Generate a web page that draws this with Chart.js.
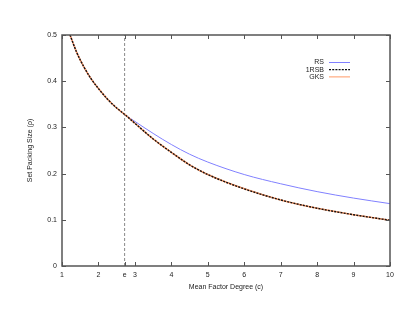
<!DOCTYPE html>
<html>
<head>
<meta charset="utf-8">
<script src="https://cdn.jsdelivr.net/npm/chart.js@4/dist/chart.umd.min.js"></script>
<style>
  html, body { margin: 0; padding: 0; background: #fff; }
  canvas { display: block; }
</style>
</head>
<body>
<canvas id="packingCanvas" width="415" height="321"></canvas>
<script>
// mean factor degree c
const degrees = [1.22, 1.4, 1.6, 1.8, 2, 2.25, 2.5, 2.72, 3, 3.5, 4, 4.5, 5, 6, 7, 8, 9, 10];
// set packing size rho
const rsValues   = [0.5, 0.463, 0.431, 0.405, 0.384, 0.361, 0.342, 0.328, 0.313, 0.287, 0.263, 0.242, 0.225, 0.198, 0.178, 0.161, 0.147, 0.135];
const rsbValues  = [0.5, 0.463, 0.431, 0.405, 0.384, 0.361, 0.342, 0.328, 0.309, 0.275, 0.246, 0.219, 0.198, 0.167, 0.143, 0.125, 0.111, 0.099];
const gksValues  = [0.5, 0.463, 0.431, 0.405, 0.384, 0.361, 0.342, 0.328, 0.309, 0.275, 0.246, 0.219, 0.198, 0.167, 0.143, 0.125, 0.111, 0.099];

const xTicks = [1, 2, Math.E, 3, 4, 5, 6, 7, 8, 9, 10];
const xTickLabels = ['1', '2', 'e', '3', '4', '5', '6', '7', '8', '9', '10'];
const yTicks = [0, 0.1, 0.2, 0.3, 0.4, 0.5];
const yTickLabels = ['0', '0.1', '0.2', '0.3', '0.4', '0.5'];
const eLine = [Math.E, Math.E];
const eLineY = [0, 0.5];

const FONT = { family: '"Liberation Sans", Arial, sans-serif', size: 7 };
const FRAME = '#555';

const toPoints = (xs, ys) => xs.map((x, i) => ({ x: x, y: ys[i] }));

// gnuplot-like frame with inward ticks on all four sides + legend
const framePlugin = {
    id: 'frame',
    afterDraw(chart) {
        const ctx = chart.ctx;
        const a = chart.chartArea;
        const xs = chart.scales.x, ys = chart.scales.y;
        ctx.save();
        ctx.strokeStyle = FRAME;
        ctx.lineWidth = 1.5;
        ctx.strokeRect(a.left, a.top, a.right - a.left, a.bottom - a.top);
        ctx.lineWidth = 1;
        ctx.beginPath();
        xTicks.forEach(v => {
            const px = Math.round(xs.getPixelForValue(v)) + 0.5;
            ctx.moveTo(px, a.bottom); ctx.lineTo(px, a.bottom - 4);
            ctx.moveTo(px, a.top); ctx.lineTo(px, a.top + 4);
        });
        yTicks.forEach(v => {
            const py = Math.round(ys.getPixelForValue(v)) + 0.5;
            ctx.moveTo(a.left, py); ctx.lineTo(a.left + 4, py);
            ctx.moveTo(a.right, py); ctx.lineTo(a.right - 4, py);
        });
        ctx.stroke();

        // legend: text right aligned, sample line to the right
        ctx.font = FONT.size + 'px ' + FONT.family;
        ctx.textAlign = 'right';
        ctx.textBaseline = 'middle';
        ctx.fillStyle = '#222';
        let y = 62.5;
        chart.data.datasets.filter(d => d.inLegend).forEach(d => {
            ctx.fillText(d.label, 324, y);
            ctx.strokeStyle = d.borderColor;
            ctx.lineWidth = d.legendWidth || d.borderWidth;
            ctx.setLineDash(d.borderDash || []);
            ctx.beginPath();
            ctx.moveTo(329, y); ctx.lineTo(350, y);
            ctx.stroke();
            y += 7.2;
        });
        ctx.restore();
    }
};

new Chart(document.getElementById('packingCanvas').getContext('2d'), {
    type: 'line',
    data: {
        datasets: [
            {
                label: 'RS', inLegend: true, order: 2,
                data: toPoints(degrees, rsValues),
                borderColor: '#8080ff', borderWidth: 1, pointRadius: 0,
                cubicInterpolationMode: 'monotone'
            },
            {
                label: '1RSB', inLegend: true, order: 0,
                data: toPoints(degrees, rsbValues),
                borderColor: '#111', borderWidth: 1.4, legendWidth: 1.3, borderDash: [2, 1.2], pointRadius: 0,
                cubicInterpolationMode: 'monotone'
            },
            {
                label: 'GKS', inLegend: true, order: 1,
                data: toPoints(degrees, gksValues),
                borderColor: '#ff9966', borderWidth: 1.6, legendWidth: 1, pointRadius: 0,
                cubicInterpolationMode: 'monotone'
            },
            {
                label: 'e', inLegend: false, order: 3,
                data: toPoints(eLine, eLineY),
                borderColor: '#888', borderWidth: 1, borderDash: [3, 2], pointRadius: 0
            }
        ]
    },
    options: {
        responsive: false,
        animation: false,
        layout: { padding: { top: 35, right: 25, left: 0, bottom: 0 } },
        plugins: { legend: { display: false }, tooltip: { enabled: false } },
        scales: {
            x: {
                type: 'linear', min: 1, max: 10,
                afterBuildTicks: s => { s.ticks = xTicks.map(v => ({ value: v })); },
                afterFit: s => { s.height = 55; },
                ticks: {
                    autoSkip: false, maxRotation: 0, padding: 5,
                    font: FONT, color: '#222',
                    callback: (v, i) => xTickLabels[i]
                },
                grid: { display: false, drawTicks: false },
                border: { display: false },
                title: {
                    display: true, text: 'Mean Factor Degree (c)',
                    font: FONT, color: '#222', padding: { top: 0, bottom: 30 }
                }
            },
            y: {
                type: 'linear', min: 0, max: 0.5,
                afterBuildTicks: s => { s.ticks = yTicks.map(v => ({ value: v })); },
                afterFit: s => { s.width = 62; },
                ticks: {
                    padding: 5, font: FONT, color: '#222',
                    callback: (v, i) => yTickLabels[i]
                },
                grid: { display: false, drawTicks: false },
                border: { display: false },
                title: {
                    display: true, text: 'Set Packing Size (\u03c1)',
                    font: FONT, color: '#222', padding: { top: 26, bottom: 0 }
                }
            }
        }
    },
    plugins: [framePlugin]
});
</script>
</body>
</html>
